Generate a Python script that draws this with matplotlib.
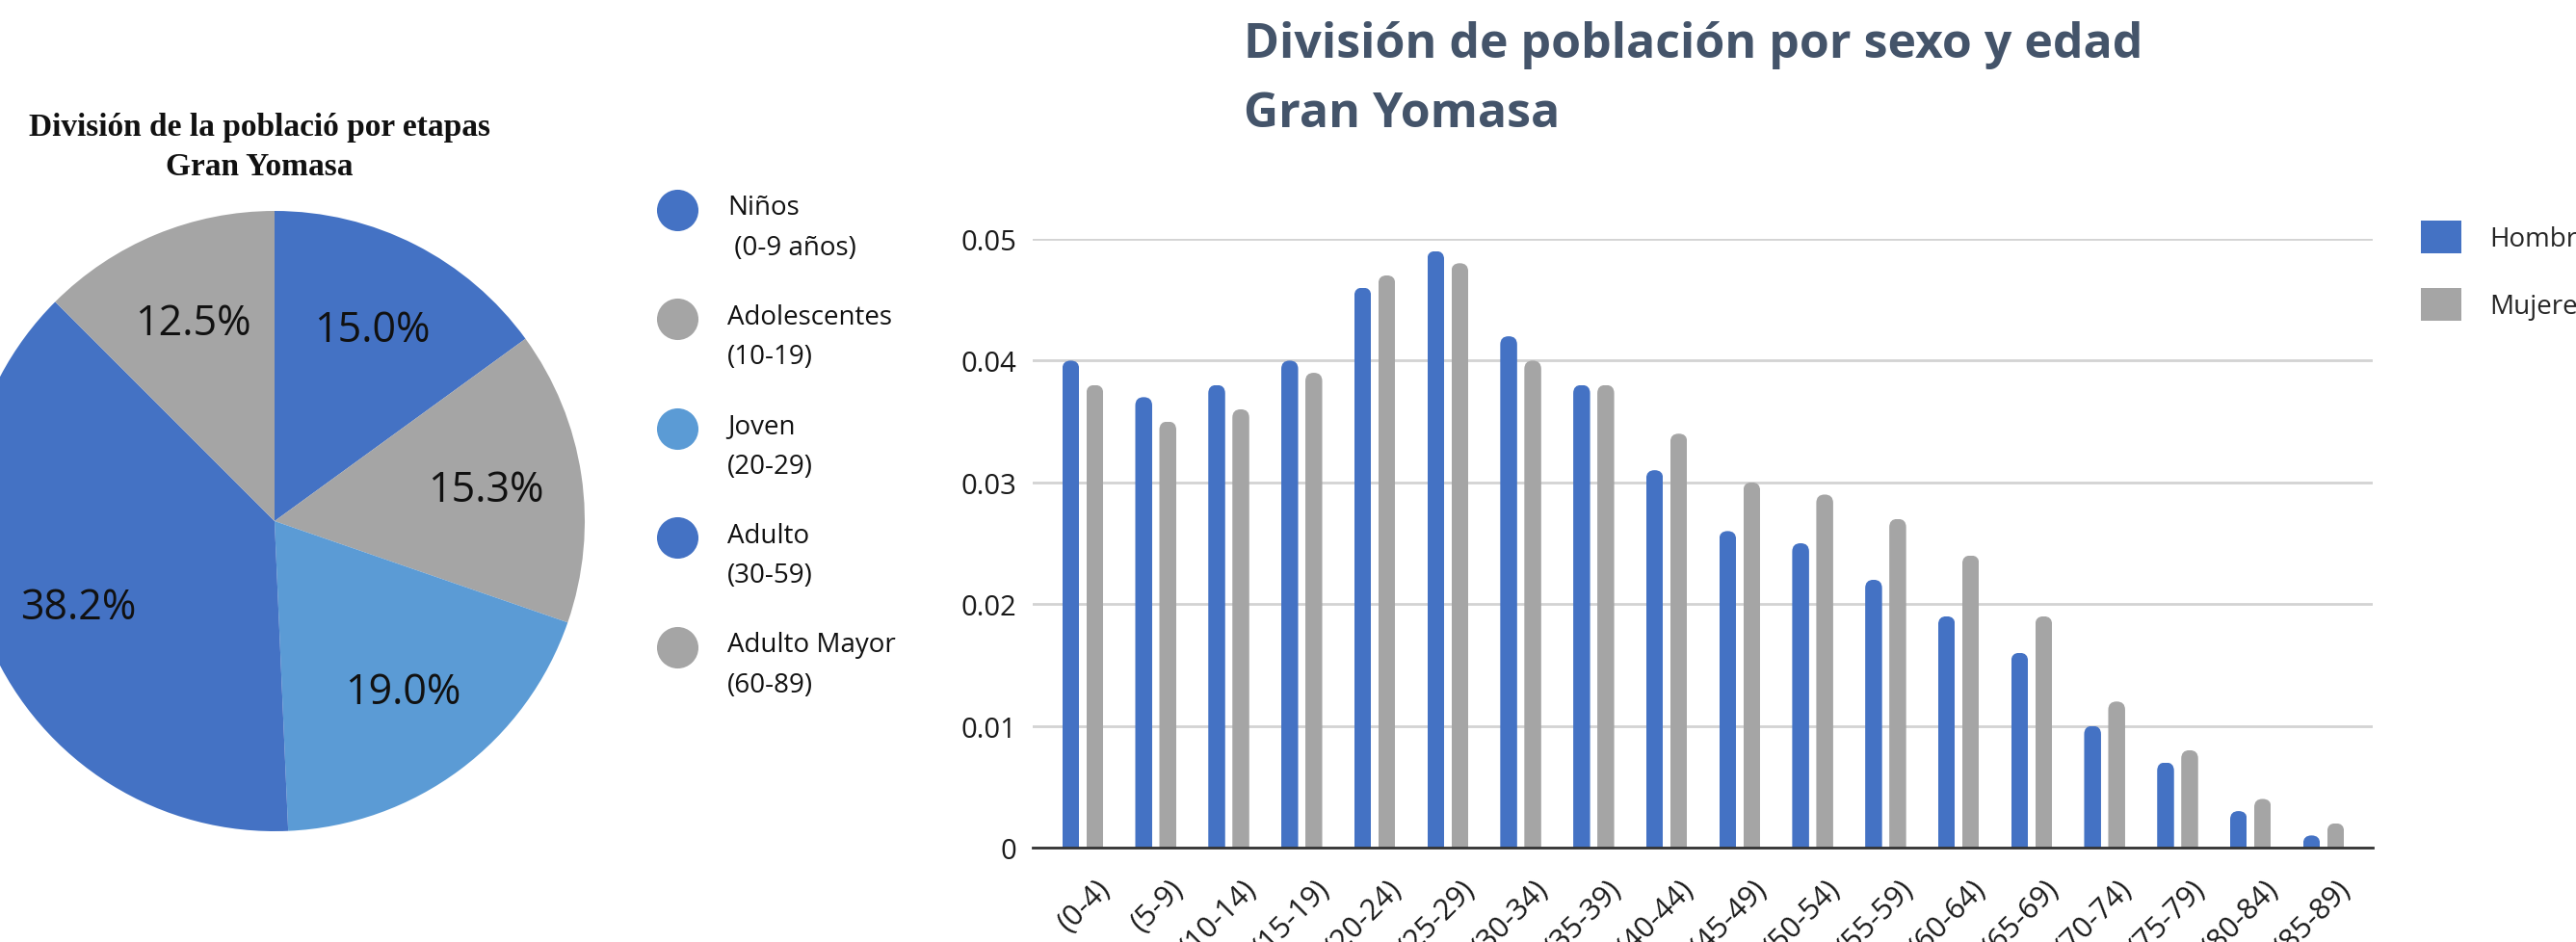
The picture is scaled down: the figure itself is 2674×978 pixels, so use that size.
import matplotlib
matplotlib.use("Agg")
import matplotlib.pyplot as plt
import numpy as np
from matplotlib.patches import FancyBboxPatch
from matplotlib.transforms import ScaledTranslation

# ---------------- data ----------------
stage_names = ["Niños", "Adolescentes", "Joven", "Adulto", "Adulto Mayor"]
stage_ranges = [" (0-9 años)", "(10-19)", "(20-29)", "(30-59)", "(60-89)"]
stage_share = [15.0, 15.3, 19.0, 38.2, 12.5]
stage_colors = ["#4472C4", "#A5A5A5", "#5B9BD5", "#4472C4", "#A5A5A5"]

age_groups = ["(0-4)", "(5-9)", "(10-14)", "(15-19)", "(20-24)", "(25-29)",
              "(30-34)", "(35-39)", "(40-44)", "(45-49)", "(50-54)", "(55-59)",
              "(60-64)", "(65-69)", "(70-74)", "(75-79)", "(80-84)", "(85-89)"]
hombres = [0.040, 0.037, 0.038, 0.040, 0.046, 0.049, 0.042, 0.038, 0.031,
           0.026, 0.025, 0.022, 0.019, 0.016, 0.010, 0.007, 0.003, 0.001]
mujeres = [0.038, 0.035, 0.036, 0.039, 0.047, 0.048, 0.040, 0.038, 0.034,
           0.030, 0.029, 0.027, 0.024, 0.019, 0.012, 0.008, 0.004, 0.002]
y_ticks = [0, 0.01, 0.02, 0.03, 0.04, 0.05]
y_tick_labels = ["0", "0.01", "0.02", "0.03", "0.04", "0.05"]
series_names = ["Hombres", "Mujeres"]
series_colors = ["#4472C4", "#A5A5A5"]

SANS = ["Open Sans", "DejaVu Sans"]
plt.rcParams["font.family"] = SANS

W, H, DPI = 2674, 979, 100
fig = plt.figure(figsize=(W / DPI, H / DPI), dpi=DPI)
fig.patch.set_facecolor("white")


def fx(px):
    return px / W


def fy(py):
    return 1 - py / H


# ---------------- pie ----------------
cx, cy, R = 285, 542, 322
ax_pie = fig.add_axes([fx(cx - R), fy(cy + R), 2 * R / W, 2 * R / H])
wedges, texts, autotexts = ax_pie.pie(
    stage_share, colors=stage_colors, startangle=90, counterclock=False,
    autopct="%1.1f%%", pctdistance=0.69, radius=1,
    wedgeprops=dict(linewidth=0),
    textprops=dict(fontsize=31, color="#111111", family=SANS))
for w in wedges:
    w.set_clip_on(False)
ax_pie.set_xlim(-1, 1)
ax_pie.set_ylim(-1, 1)
ax_pie.set_aspect("equal")
ax_pie.axis("off")

fig.text(fx(269), fy(141), "División de la població por etapas", ha="center",
         va="baseline", fontsize=24, fontweight="bold",
         family=["Liberation Serif", "DejaVu Serif"], color="#111111")
fig.text(fx(269), fy(182), "Gran Yomasa", ha="center", va="baseline",
         fontsize=24, fontweight="bold",
         family=["Liberation Serif", "DejaVu Serif"], color="#111111")

# pie legend (overlay axes in pixel coordinates)
lax = fig.add_axes([0, 0, 1, 1], zorder=5)
lax.set_xlim(0, W)
lax.set_ylim(H, 0)
lax.axis("off")
leg_y0, leg_dy = 218.6, 113.6
for i, (nm, rg, col) in enumerate(zip(stage_names, stage_ranges, stage_colors)):
    yy = leg_y0 + i * leg_dy
    lax.plot([703], [yy], "o", ms=31, color=col, mec="none")
    lax.text(755, yy + 4.5, nm, fontsize=20, va="baseline", ha="left",
             color="#111111")
    lax.text(755, yy + 46, rg, fontsize=20, va="baseline", ha="left",
             color="#111111")

# ---------------- bars ----------------
L, Rr, T, B = 1072, 2463, 249, 881
ax = fig.add_axes([fx(L), fy(B), (Rr - L) / W, (B - T) / H])
x = np.arange(len(age_groups))
bw = 0.231
off = 0.165
b1 = ax.bar(x - off, hombres, width=bw, color=series_colors[0], label=series_names[0], zorder=3)
b2 = ax.bar(x + off, mujeres, width=bw, color=series_colors[1], label=series_names[1], zorder=3)
xlim = (-0.686, len(age_groups) - 1 + 0.673)
ax.set_xlim(*xlim)
ax.set_ylim(0, 0.05)

# rounded bar tops via clip paths
px_x = (xlim[1] - xlim[0]) / (Rr - L)
px_y = 0.05 / (B - T)
rad_px = 8.6
for rect in list(b1) + list(b2):
    x0, w_, h_ = rect.get_x(), rect.get_width(), rect.get_height()
    clip = FancyBboxPatch((x0, -h_), w_, 2 * h_,
                          boxstyle="round,pad=0,rounding_size=%f" % (min(rad_px * px_x, w_ / 2)),
                          mutation_aspect=px_y / px_x, transform=ax.transData)
    rect.set_clip_path(clip)

ax.set_yticks(y_ticks)
ax.set_yticklabels(y_tick_labels)
ax.yaxis.grid(True, color="#D3D3D3", linewidth=2, zorder=0)
ax.set_axisbelow(True)
for s in ["top", "right", "left"]:
    ax.spines[s].set_visible(False)
ax.spines["bottom"].set_color("#333333")
ax.spines["bottom"].set_linewidth(2)
ax.spines["bottom"].set_zorder(4)
ax.tick_params(axis="y", length=0, pad=12, labelsize=21, labelcolor="#1a1a1a")
ax.set_xticks(x)
ax.tick_params(axis="x", length=0, pad=27, labelsize=22, labelcolor="#1a1a1a")
ax.set_xticklabels(age_groups, rotation=45, ha="right", va="center",
                   rotation_mode="anchor")
shift = ScaledTranslation(24 / DPI, 0, fig.dpi_scale_trans)
for lab in ax.get_xticklabels():
    lab.set_transform(lab.get_transform() + shift)

fig.text(fx(1291), fy(60), "División de población por sexo y edad", ha="left",
         va="baseline", fontsize=36, fontweight="bold", color="#44546A")
fig.text(fx(1291), fy(132), "Gran Yomasa", ha="left", va="baseline",
         fontsize=36, fontweight="bold", color="#44546A")

leg = ax.legend(handles=[b1, b2], loc="upper left",
                bbox_to_anchor=(fx(2513), fy(230)), bbox_transform=fig.transFigure,
                frameon=False, fontsize=20, borderpad=0, borderaxespad=0,
                handlelength=1.51, handleheight=1.51, handletextpad=1.04,
                labelspacing=1.29, labelcolor="#262626")

fig.savefig("out.png", dpi=DPI, facecolor="white")
